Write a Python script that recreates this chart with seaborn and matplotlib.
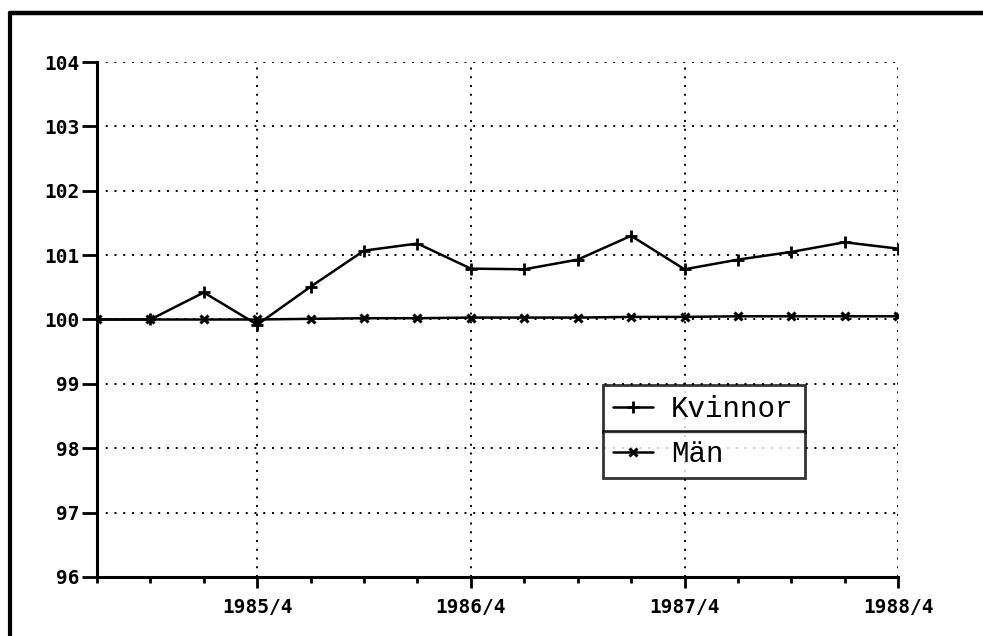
import seaborn as sns
import matplotlib.pyplot as plt
import pandas as pd
from matplotlib.lines import Line2D

sns.set_style("white")

# Quarterly index values, 1985/1 = 100
quarters = ["1985/1", "1985/2", "1985/3", "1985/4",
            "1986/1", "1986/2", "1986/3", "1986/4",
            "1987/1", "1987/2", "1987/3", "1987/4",
            "1988/1", "1988/2", "1988/3", "1988/4"]
kvinnor = [100.0, 100.0, 100.42, 99.92, 100.51, 101.07, 101.18, 100.79,
           100.78, 100.93, 101.30, 100.78, 100.93, 101.05, 101.20, 101.10]
man = [100.0, 100.0, 100.0, 100.0, 100.01, 100.02, 100.02, 100.03,
       100.03, 100.03, 100.04, 100.04, 100.05, 100.05, 100.05, 100.05]
yticks = [96, 97, 98, 99, 100, 101, 102, 103, 104]

df = pd.DataFrame({"pos": range(len(quarters)), "Kvinnor": kvinnor, "Män": man})

fig = plt.figure(figsize=(9.83, 6.36), dpi=100)
ax = fig.add_axes([0.0987, 0.0928, 0.815, 0.8097])

# grid first so the lines sit on top
for y in yticks[1:]:
    ax.axhline(y, color="black", lw=1.4, ls=(0, (1, 3.5)), zorder=1)
major = [i for i, q in enumerate(quarters) if q.endswith("/4")]
for x in major:
    ax.axvline(x, color="black", lw=1.4, ls=(0, (1, 3.5)), zorder=1)

sns.lineplot(data=df, x="pos", y="Kvinnor", ax=ax, color="black", lw=1.8,
             marker="+", markersize=8, markeredgewidth=2,
             markeredgecolor="black", zorder=3)
line_k = ax.lines[-1]
sns.lineplot(data=df, x="pos", y="Män", ax=ax, color="black", lw=1.8,
             marker="x", markersize=6, markeredgewidth=2.2,
             markeredgecolor="black", zorder=3)
line_m = ax.lines[-1]

ax.set_xlim(0, len(quarters) - 1)
ax.set_ylim(96, 104)
ax.set_xlabel("")
ax.set_ylabel("")

ax.set_xticks(major)
ax.set_xticklabels([quarters[i] for i in major])
ax.set_xticks(range(len(quarters)), minor=True)
ax.set_yticks(yticks)
ax.set_yticklabels([str(v) for v in yticks])

for sp in ["top", "right"]:
    ax.spines[sp].set_visible(False)
for sp in ["left", "bottom"]:
    ax.spines[sp].set_linewidth(2.2)
    ax.spines[sp].set_color("black")

tickfont = dict(family="DejaVu Sans Mono", weight="bold", size=14)
ax.tick_params(axis="x", which="major", direction="out", length=8, width=2,
               pad=7, bottom=True, colors="black")
ax.tick_params(axis="x", which="minor", direction="out", length=4, width=2,
               bottom=True, colors="black")
ax.tick_params(axis="y", which="major", direction="out", length=11, width=2,
               pad=1.5, left=True, colors="black")
for lab in ax.get_xticklabels() + ax.get_yticklabels():
    lab.set_fontproperties(tickfont)

# legend: two stacked boxes
legkw = dict(loc="center left", mode="expand", frameon=True, fancybox=False,
             handlelength=1.37, handletextpad=0.62, borderaxespad=0,
             labelcolor="black",
             prop=dict(family="Liberation Mono", size=21), borderpad=0.33)
leg1 = ax.legend([line_k], ["Kvinnor"], bbox_to_anchor=(0.632, 0.282, 0.252, 0.089), **legkw)
leg1.get_frame().set_edgecolor("black")
leg1.get_frame().set_linewidth(2)
ax.add_artist(leg1)
leg2 = ax.legend([line_m], ["Män"], bbox_to_anchor=(0.632, 0.194, 0.252, 0.088), **legkw)
leg2.get_frame().set_edgecolor("black")
leg2.get_frame().set_linewidth(2)

# page frame (scan border on the left and top)
fig.add_artist(Line2D([0.0105, 0.0105], [0, 0.98], transform=fig.transFigure,
                      color="black", lw=3))
fig.add_artist(Line2D([0.0105, 1.0], [0.98, 0.98], transform=fig.transFigure,
                      color="black", lw=3.2))

fig.savefig("out.png", dpi=100)
plt.close(fig)
